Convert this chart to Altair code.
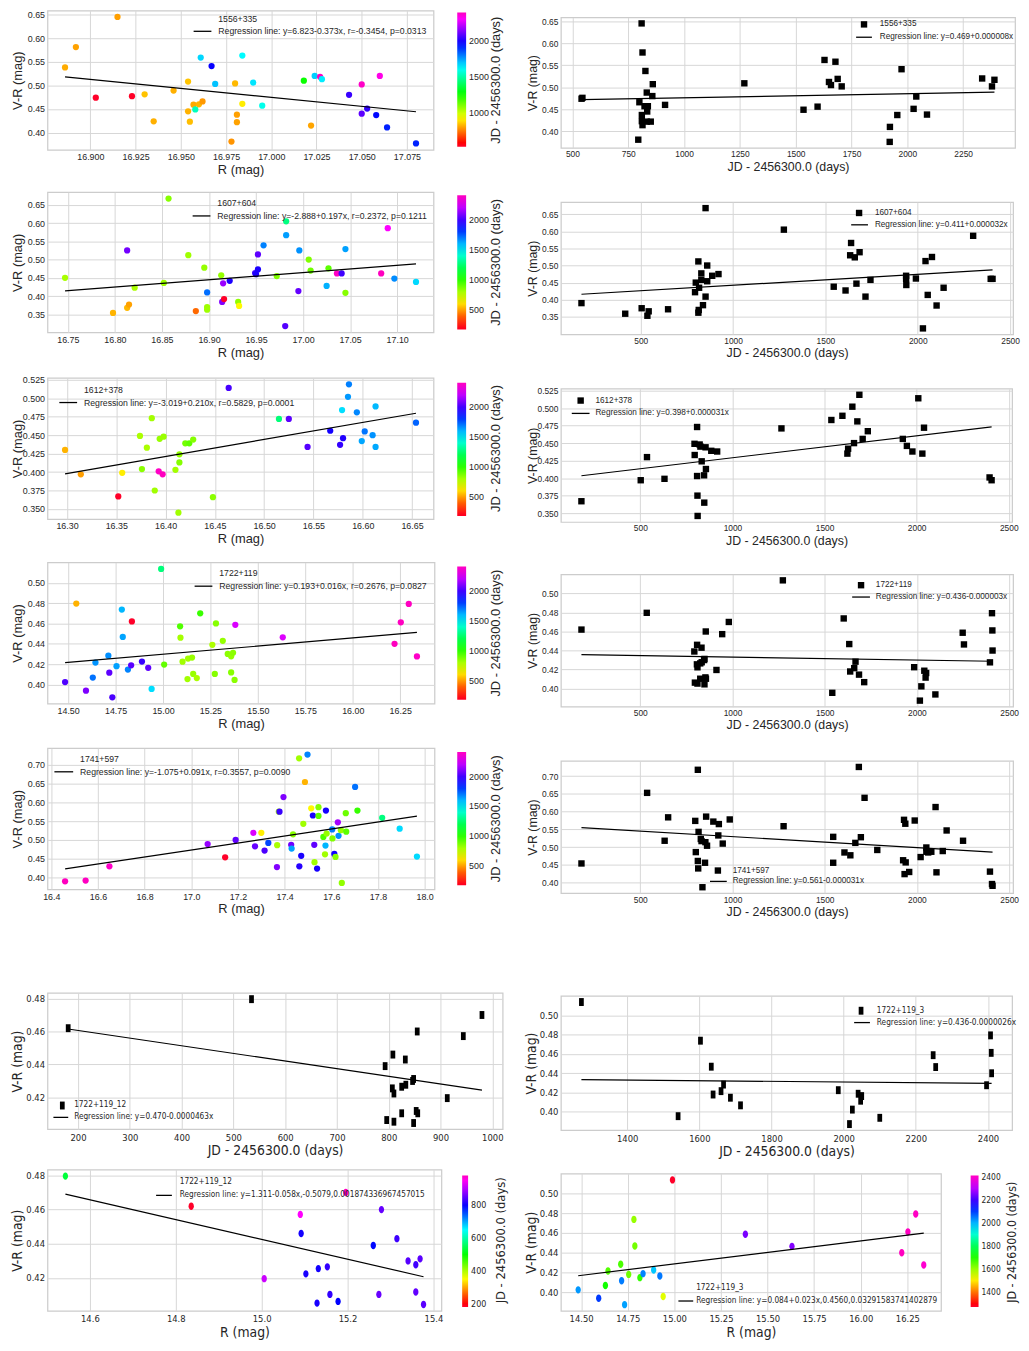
import altair as alt
import pandas as pd

# ---------------- data ----------------
# 1556+335 : left panel (R, V-R, colour = JD)
S1_R = [16.886, 16.892, 16.903, 16.915, 16.923, 16.930, 16.935, 16.946, 16.954, 16.954,
        16.955, 16.957, 16.958, 16.960, 16.961, 16.962, 16.967, 16.969, 16.978, 16.980,
        16.981, 16.981, 16.984, 16.984, 16.990, 16.995, 17.018, 17.022, 17.024, 17.027,
        17.028, 17.043, 17.050, 17.050, 17.053, 17.058, 17.060, 17.064, 17.080]
S1_VR = [0.538, 0.581, 0.474, 0.645, 0.477, 0.481, 0.424, 0.489, 0.508, 0.445,
         0.423, 0.459, 0.449, 0.460, 0.559, 0.466, 0.541, 0.503, 0.381, 0.504,
         0.438, 0.422, 0.461, 0.563, 0.506, 0.457, 0.510, 0.415, 0.520, 0.518,
         0.513, 0.480, 0.502, 0.440, 0.451, 0.437, 0.520, 0.411, 0.377]
S1_JD = [827, 814, 541, 810, 545, 858, 833, 833, 860, 835,
         851, 823, 1535, 838, 1678, 800, 1974, 1706, 795, 845,
         811, 814, 915, 1629, 1658, 1598, 1270, 818, 1688, 2390,
         1649, 2040, 2379, 2088, 2028, 1955, 2335, 1922, 1921]
# 1556+335 : right panel (JD, V-R)
S1_TJD = [541, 545, 810, 814, 827, 833, 860, 858, 800, 823, 838, 835, 811, 811, 814, 851, 833, 795, 915,
          1270, 1535, 1598, 1629, 1649, 1658, 1678, 1688, 1706, 1955, 1974, 1922, 1921, 2028, 2040, 2088,
          2335, 2379, 2390]
S1_TVR = [0.474, 0.476, 0.645, 0.579, 0.537, 0.488, 0.507, 0.480, 0.466, 0.457, 0.457, 0.445, 0.437, 0.423,
          0.414, 0.422, 0.422, 0.381, 0.460, 0.509, 0.449, 0.456, 0.562, 0.512, 0.505, 0.558, 0.519, 0.502,
          0.437, 0.541, 0.410, 0.376, 0.451, 0.479, 0.438, 0.520, 0.502, 0.517]

# 1607+604
S2_R = [16.747, 16.798, 16.813, 16.813, 16.815, 16.821, 16.852, 16.857, 16.878, 16.886,
        16.895, 16.898, 16.898, 16.898, 16.913, 16.915, 16.914, 16.916, 16.922, 16.931,
        16.932, 16.949, 16.950, 16.952, 16.952, 16.958, 16.972, 16.982, 16.982, 16.981,
        16.996, 16.995, 17.006, 17.008, 17.025, 17.027, 17.036, 17.041, 17.045, 17.045,
        17.083, 17.090, 17.097, 17.120]
S2_VR = [0.450, 0.354, 0.525, 0.368, 0.377, 0.423, 0.436, 0.667, 0.512, 0.359,
         0.478, 0.410, 0.370, 0.363, 0.457, 0.435, 0.384, 0.392, 0.442, 0.384,
         0.373, 0.463, 0.460, 0.514, 0.473, 0.539, 0.455, 0.605, 0.567, 0.318,
         0.525, 0.414, 0.500, 0.470, 0.428, 0.476, 0.462, 0.462, 0.409, 0.529,
         0.462, 0.586, 0.448, 0.439]
S2_JD = [798, 536, 2077, 543, 505, 794, 816, 851, 812, 416,
         828, 1717, 814, 812, 828, 2140, 2102, 179, 1938, 837,
         648, 1990, 1937, 2042, 1937, 1685, 860, 1275, 1639, 2028,
         1659, 2054, 860, 887, 1609, 921, 2395, 1995, 851, 1634,
         2405, 2300, 1668, 1545]
S2_TJD = [179, 416, 505, 543, 536, 648, 798, 794, 812, 816, 814, 812, 828, 828, 837, 851, 860, 860, 851,
          887, 921, 1275, 1545, 1609, 1634, 1639, 1659, 1668, 1685, 1717, 1744, 1937, 1937, 1938, 1990,
          2028, 2042, 2054, 2077, 2102, 2140, 2300, 2395, 2405]
S2_TVR = [0.390, 0.359, 0.375, 0.366, 0.353, 0.372, 0.450, 0.422, 0.512, 0.435, 0.370, 0.362, 0.477,
          0.458, 0.384, 0.668, 0.500, 0.454, 0.409, 0.470, 0.475, 0.605, 0.438, 0.427, 0.530, 0.566,
          0.524, 0.447, 0.539, 0.409, 0.458, 0.470, 0.461, 0.443, 0.462, 0.316, 0.513, 0.414, 0.525,
          0.383, 0.435, 0.587, 0.461, 0.461]

# 1612+378
S3_R = [16.298, 16.314, 16.352, 16.356, 16.374, 16.376, 16.381, 16.386, 16.389, 16.394,
        16.398, 16.393, 16.397, 16.410, 16.414, 16.414, 16.413, 16.420, 16.424, 16.428,
        16.448, 16.464, 16.515, 16.525, 16.544, 16.567, 16.577, 16.580, 16.579, 16.585,
        16.586, 16.594, 16.599, 16.602, 16.610, 16.613, 16.613, 16.654]
S3_VR = [0.430, 0.397, 0.367, 0.399, 0.449, 0.404, 0.433, 0.473, 0.375, 0.445,
         0.448, 0.401, 0.397, 0.403, 0.424, 0.413, 0.345, 0.439, 0.439, 0.444,
         0.366, 0.514, 0.472, 0.472, 0.434, 0.456, 0.437, 0.446, 0.484, 0.502,
         0.519, 0.481, 0.442, 0.455, 0.450, 0.434, 0.489, 0.467]
S3_JD = [536, 502, 180, 631, 794, 846, 795, 808, 810, 826,
         822, 2396, 2407, 808, 833, 856, 811, 885, 917, 854,
         847, 2009, 1266, 2040, 2031, 1925, 1977, 1947, 1537, 1651,
         1689, 1678, 1628, 1707, 1660, 1624, 1597, 1735]
S3_TJD = [180, 502, 536, 631, 795, 794, 808, 808, 810, 811, 822, 826, 833, 846, 847, 854, 856, 885, 917,
          1266, 1537, 1597, 1624, 1628, 1651, 1660, 1678, 1689, 1707, 1735, 1925, 1947, 1977, 2009, 2031,
          2040, 2396, 2407]
S3_TVR = [0.367, 0.397, 0.430, 0.399, 0.433, 0.449, 0.473, 0.403, 0.375, 0.346, 0.448, 0.445, 0.424,
          0.404, 0.365, 0.444, 0.413, 0.439, 0.438, 0.471, 0.483, 0.489, 0.435, 0.442, 0.502, 0.450,
          0.481, 0.519, 0.456, 0.467, 0.456, 0.446, 0.438, 0.514, 0.435, 0.472, 0.401, 0.397]

# 1722+119 (also split into _12 and _3 subsets for the bottom rows)
S4_R = [14.543, 14.836, 15.006, 15.090, 15.092, 15.103, 15.132, 15.153, 15.129, 15.159,
        15.178, 15.196, 15.260, 15.279, 15.273, 15.315, 15.341, 15.359, 15.369, 15.359, 15.377,
        14.484, 14.594, 14.630, 14.644, 14.712, 14.717, 14.733, 14.755, 14.783, 14.788,
        14.815, 14.832, 14.889, 14.922, 14.940, 14.990, 15.381, 15.631, 16.220, 16.253,
        16.295, 16.338]
S4_VR = [0.4796, 0.462, 0.4196, 0.4572, 0.446, 0.4224, 0.4255, 0.4265, 0.4053, 0.4104,
         0.4063, 0.470, 0.439, 0.460, 0.4104, 0.443, 0.430, 0.4277, 0.4312, 0.4118, 0.4045,
         0.4024, 0.3939, 0.4068, 0.4215, 0.4283, 0.4116, 0.3874, 0.418, 0.4737, 0.4468,
         0.4147, 0.4188, 0.4225, 0.4164, 0.3956, 0.5137, 0.4587, 0.4464, 0.440, 0.4611,
         0.4792, 0.4276]
S4_JD = [535, 181, 913, 944, 808, 810, 807, 825, 810, 825,
         796, 980, 793, 855, 856, 832, 846, 833, 848, 853, 848,
         2024, 2100, 1714, 1660, 1667, 2047, 2016, 1638, 1603, 1633,
         1686, 2040, 1985, 2050, 1541, 1273, 2248, 2255, 2410, 2409,
         2407, 2396]

# 1741+597
S5_R = [16.459, 16.547, 16.649, 17.070, 17.145, 17.190, 17.266, 17.273, 17.300, 17.314,
        17.330, 17.367, 17.368, 17.375, 17.378, 17.395, 17.428, 17.430, 17.436, 17.462,
        17.463, 17.471, 17.480, 17.487, 17.498, 17.514, 17.521, 17.527, 17.528, 17.539,
        17.545, 17.545, 17.566, 17.573, 17.575, 17.577, 17.580, 17.604, 17.605, 17.613,
        17.618, 17.628, 17.631, 17.641, 17.645, 17.662, 17.664, 17.702, 17.712, 17.818,
        17.893, 17.967]
S5_VR = [0.390, 0.392, 0.430, 0.489, 0.454, 0.500, 0.519, 0.483, 0.519, 0.472,
         0.492, 0.428, 0.486, 0.575, 0.575, 0.614, 0.487, 0.477, 0.515, 0.717,
         0.430, 0.458, 0.543, 0.654, 0.727, 0.584, 0.565, 0.487, 0.441, 0.424,
         0.587, 0.564, 0.508, 0.462, 0.485, 0.578, 0.517, 0.528, 0.504, 0.463,
         0.455, 0.547, 0.511, 0.526, 0.386, 0.571, 0.522, 0.641, 0.578, 0.559,
         0.530, 0.456]
S5_JD = [2410, 2407, 2396, 2140, 181, 2051, 2250, 2061, 632, 2020,
         1785, 2106, 801, 798, 1988, 2101, 2078, 1639, 853, 812,
         1958, 1939, 816, 537, 1685, 651, 1937, 2051, 814, 1933,
         857, 926, 947, 812, 1607, 1930, 832, 1696, 862, 1925,
         851, 2161, 1666, 828, 837, 896, 923, 1716, 985, 1277,
         1546, 1546]
S5_TJD = [181, 537, 651, 632, 798, 812, 801, 812, 814, 816, 828, 832, 837, 853, 857, 851, 862, 896, 926,
          923, 947, 985, 1277, 1546, 1546, 1607, 1639, 1666, 1685, 1696, 1716, 1785, 1930, 1937, 1925,
          1939, 1933, 1958, 1988, 2020, 2051, 2051, 2061, 2078, 2101, 2106, 2140, 2161, 2250, 2396,
          2410, 2407]
S5_TVR = [0.454, 0.653, 0.584, 0.518, 0.574, 0.718, 0.486, 0.461, 0.440, 0.543, 0.523, 0.517, 0.387,
          0.514, 0.586, 0.456, 0.504, 0.572, 0.565, 0.533, 0.510, 0.578, 0.559, 0.529, 0.456, 0.485,
          0.477, 0.512, 0.726, 0.528, 0.639, 0.492, 0.577, 0.566, 0.463, 0.457, 0.424, 0.430, 0.575,
          0.472, 0.499, 0.487, 0.485, 0.487, 0.613, 0.429, 0.489, 0.547, 0.518, 0.431, 0.391, 0.396]

# tick labels
X1L = [16.900, 16.925, 16.950, 16.975, 17.000, 17.025, 17.050, 17.075]
X1R = [500, 750, 1000, 1250, 1500, 1750, 2000, 2250]
Y1 = [0.40, 0.45, 0.50, 0.55, 0.60, 0.65]
X2L = [16.75, 16.80, 16.85, 16.90, 16.95, 17.00, 17.05, 17.10]
Y2 = [0.35, 0.40, 0.45, 0.50, 0.55, 0.60, 0.65]
XJD = [500, 1000, 1500, 2000, 2500]
X3L = [16.30, 16.35, 16.40, 16.45, 16.50, 16.55, 16.60, 16.65]
Y3 = [0.350, 0.375, 0.400, 0.425, 0.450, 0.475, 0.500, 0.525]
X4L = [14.50, 14.75, 15.00, 15.25, 15.50, 15.75, 16.00, 16.25]
Y4 = [0.40, 0.42, 0.44, 0.46, 0.48, 0.50]
X5L = [16.4, 16.6, 16.8, 17.0, 17.2, 17.4, 17.6, 17.8, 18.0]
Y5 = [0.40, 0.45, 0.50, 0.55, 0.60, 0.65, 0.70]
X6L = [200, 300, 400, 500, 600, 700, 800, 900, 1000]
Y6L = [0.42, 0.44, 0.46, 0.48]
X6R = [1400, 1600, 1800, 2000, 2200, 2400]
X7L = [14.6, 14.8, 15.0, 15.2, 15.4]
CB1 = [1000, 1500, 2000]
CB2 = [500, 1000, 1500, 2000]
CB7L = [200, 400, 600, 800]
CB7R = [1400, 1600, 1800, 2000, 2200, 2400]

# ---------------- styling ----------------
FONT = "Liberation Sans"
NARROW = "Liberation Sans Narrow, DejaVu Sans Condensed, Liberation Sans"
INK = "#262626"
GRID = "#d6d6d6"
FRAME = "#cccccc"
GIST_T = [0.0, 0.03, 0.215, 0.4, 0.586, 0.77, 0.954, 1.0]
GIST_C = ["#ff0029", "#ff0000", "#ffff00", "#00ff00", "#00ffff", "#0000ff", "#ff00ff", "#ff00bf"]
ONE = pd.DataFrame({"k": [0]})
CBT = "JD - 2456300.0 (days)"
TALL_RECT = "M-0.6,-1L0.6,-1L0.6,1L-0.6,1Z"
TALL_DOT = "M0,-1A0.72,1,0,1,1,0,1A0.72,1,0,1,1,0,-1Z"

ST_L = dict(font=FONT, lab=9, tit=13, ext=21, ytp=2, xlp=3, xtp=2, msize=40, shape="circle", leg=8.8, cbl=9, cbt=13)
ST_R = dict(font=FONT, lab=8.5, tit=12.5, ext=20, ytp=2, xlp=2, xtp=2, msize=42, shape="square", leg=8.3)
ST_6 = dict(font=NARROW, lab=9.5, tit=14, ext=20, ytp=3, xlp=3, xtp=2, msize=64, shape=TALL_RECT, leg=8.3)
ST_7 = dict(font=NARROW, lab=9.5, tit=14, ext=20, ytp=3, xlp=3, xtp=2, msize=56, shape=TALL_DOT, leg=8.3,
            cbl=9, cbt=13)
ST_7R = dict(ST_7, cbl=8.5, cbt=12.5)


def lim(v):
    lo, hi = float(min(v)), float(max(v))
    m = 0.05 * (hi - lo)
    return [lo - m, hi + m]


def note(s, x, y, size, font, angle=0, align="left"):
    return alt.Chart(ONE).mark_text(text=s, font=font, fontSize=size, color=INK, align=align,
                                    baseline="middle", angle=angle).encode(x=alt.value(x), y=alt.value(y))


def key_line(x1, x2, y):
    return alt.Chart(ONE).mark_rule(color="black", strokeWidth=1.3).encode(
        x=alt.value(x1), x2=alt.value(x2), y=alt.value(y))


def key_mark(x, y, st):
    return alt.Chart(ONE).mark_point(shape=st["shape"], filled=True, size=st["msize"], color="black",
                                     opacity=1, strokeWidth=0).encode(x=alt.value(x), y=alt.value(y))


def panel(df, xf, w, h, xvals, xfmt, yvals, yfmt, xtitle, st, leg, cbar=None):
    f = st["font"]
    xa = alt.Axis(values=xvals, tickCount=40, format=xfmt, title=xtitle, labelFont=f, labelFontSize=st["lab"],
                  titleFont=f, titleFontSize=st["tit"], labelPadding=st["xlp"], titlePadding=st["xtp"],
                  labelOverlap=False, labelFlush=False)
    ya = alt.Axis(values=yvals, tickCount=40, format=yfmt, title="V-R (mag)", labelFont=f,
                  labelFontSize=st["lab"], titleFont=f, titleFontSize=st["tit"], labelPadding=3,
                  titlePadding=st["ytp"], minExtent=st["ext"], maxExtent=st["ext"], labelOverlap=False,
                  labelFlush=False)
    x = alt.X(f"{xf}:Q", scale=alt.Scale(domain=lim(df[xf]), nice=False, zero=False), axis=xa)
    y = alt.Y("VR:Q", scale=alt.Scale(domain=lim(df["VR"]), nice=False, zero=False), axis=ya)
    mark = alt.Chart(df).mark_point(shape=st["shape"], filled=True, size=st["msize"], opacity=1, strokeWidth=0)
    layers = []
    if cbar:
        lo, hi = float(df["JD"].min()), float(df["JD"].max())
        dom = [lo + t * (hi - lo) for t in GIST_T]
        col = alt.Color("JD:Q", scale=alt.Scale(domain=dom, range=GIST_C, interpolate="rgb"),
                        legend=alt.Legend(orient="none", legendX=cbar["x"], legendY=cbar["y"],
                                          direction="vertical", gradientLength=cbar["len"],
                                          gradientThickness=cbar["th"], gradientStrokeWidth=0,
                                          title=None, values=cbar["vals"], format="d", labelFont=f,
                                          labelFontSize=st["cbl"], labelColor=INK, labelOffset=3,
                                          labelOverlap=False))
        layers.append(mark.encode(x=x, y=y, color=col))
        layers.append(note(CBT, cbar["tx"], h / 2, st["cbt"], f, angle=270, align="center"))
    else:
        layers.append(mark.encode(x=x, y=y, color=alt.value("black")))
    layers.append(alt.Chart(df).transform_regression(xf, "VR").mark_line(color="black", strokeWidth=1.2)
                  .encode(x=f"{xf}:Q", y="VR:Q"))
    # in-plot legend
    if leg.get("marker"):
        layers.append(key_mark(leg["marker"][0], leg["marker"][1], st))
    layers.append(note(leg["name"], leg["lab"][0], leg["lab"][1], st["leg"], f))
    layers.append(key_line(leg["line"][0], leg["line"][1], leg["line"][2]))
    layers.append(note(leg["eq"], leg["lab"][0], leg["line"][2], st["leg"], f))
    return alt.layer(*layers).properties(width=w, height=h)


def gap(hh):
    return alt.Chart(ONE).mark_point(opacity=0, size=1).encode(x=alt.value(1), y=alt.value(hh / 2)).properties(
        width=1, height=hh, view=alt.ViewBackground(stroke="transparent"))


d1L = pd.DataFrame({"R": S1_R, "VR": S1_VR, "JD": S1_JD})
d1R = pd.DataFrame({"JD": S1_TJD, "VR": S1_TVR})
d2L = pd.DataFrame({"R": S2_R, "VR": S2_VR, "JD": S2_JD})
d2R = pd.DataFrame({"JD": S2_TJD, "VR": S2_TVR})
d3L = pd.DataFrame({"R": S3_R, "VR": S3_VR, "JD": S3_JD})
d3R = pd.DataFrame({"JD": S3_TJD, "VR": S3_TVR})
d4 = pd.DataFrame({"R": S4_R, "VR": S4_VR, "JD": S4_JD})
d4a = d4[d4["JD"] < 1100].reset_index(drop=True)
d4b = d4[d4["JD"] > 1100].reset_index(drop=True)
d5L = pd.DataFrame({"R": S5_R, "VR": S5_VR, "JD": S5_JD})
d5R = pd.DataFrame({"JD": S5_TJD, "VR": S5_TVR})

RT = "R (mag)"

L1 = panel(d1L, "R", 391, 141, X1L, ".3f", Y1, ".2f", RT, ST_L,
           dict(name="1556+335", eq="Regression line: y=6.823-0.373x, r=-0.3454, p=0.0313",
                lab=(173, 9), line=(148, 166, 21)),
           cbar=dict(x=415, y=2, len=136, th=9, tx=454, vals=CB1))
R1 = panel(d1R, "JD", 460, 132, X1R, "d", Y1, ".2f", CBT, ST_R,
           dict(name="1556+335", eq="Regression line: y=0.469+0.000008x", marker=(307, 7),
                lab=(323, 7), line=(299, 315, 20)))
L2 = panel(d2L, "R", 391, 142, X2L, ".2f", Y2, ".2f", RT, ST_L,
           dict(name="1607+604", eq="Regression line: y=-2.888+0.197x, r=0.2372, p=0.1211",
                lab=(172, 11), line=(147, 165, 24)),
           cbar=dict(x=415, y=3, len=136, th=9, tx=454, vals=CB2))
R2 = panel(d2R, "JD", 458, 134, XJD, "d", Y2, ".2f", CBT, ST_R,
           dict(name="1607+604", eq="Regression line: y=0.411+0.000032x", marker=(302, 11),
                lab=(318, 11), line=(294, 311, 23)))
L3 = panel(d3L, "R", 391, 143, X3L, ".2f", Y3, ".3f", RT, ST_L,
           dict(name="1612+378", eq="Regression line: y=-3.019+0.210x, r=0.5829, p=0.0001",
                lab=(37, 12), line=(12, 30, 25)),
           cbar=dict(x=415, y=5, len=135, th=9, tx=454, vals=CB2))
R3 = panel(d3R, "JD", 457, 135, XJD, "d", Y3, ".3f", CBT, ST_R,
           dict(name="1612+378", eq="Regression line: y=0.398+0.000031x", marker=(20, 12),
                lab=(35, 12), line=(11, 29, 25)))
L4 = panel(d4, "R", 392, 143, X4L, ".2f", Y4, ".2f", RT, ST_L,
           dict(name="1722+119", eq="Regression line: y=0.193+0.016x, r=0.2676, p=0.0827",
                lab=(174, 11), line=(149, 167, 24)),
           cbar=dict(x=415, y=4, len=135, th=9, tx=454, vals=CB2))
R4 = panel(d4, "JD", 458, 134, XJD, "d", Y4, ".2f", CBT, ST_R,
           dict(name="1722+119", eq="Regression line: y=0.436-0.000003x", marker=(304, 11),
                lab=(319, 11), line=(295, 313, 23)))
L5 = panel(d5L, "R", 392, 143, X5L, ".1f", Y5, ".2f", RT, ST_L,
           dict(name="1741+597", eq="Regression line: y=-1.075+0.091x, r=0.3557, p=0.0090",
                lab=(33, 11), line=(7, 26, 24)),
           cbar=dict(x=415, y=4, len=135, th=9, tx=454, vals=CB2))
R5 = panel(d5R, "JD", 458, 134, XJD, "d", Y5, ".2f", CBT, ST_R,
           dict(name="1741+597", eq="Regression line: y=0.561-0.000031x", marker=(159, 111),
                lab=(174, 111), line=(151, 168, 122)))
L6 = panel(d4a, "JD", 461, 138, X6L, "d", Y6L, ".2f", CBT, ST_6,
           dict(name="1722+119_12", eq="Regression line: y=0.470-0.0000463x", marker=(15, 114),
                lab=(27, 114), line=(6, 21, 126)))
R6 = panel(d4b, "JD", 457, 136, X6R, "d", Y4, ".2f", CBT, ST_6,
           dict(name="1722+119_3", eq="Regression line: y=0.436-0.0000026x", marker=(304, 15),
                lab=(320, 15), line=(297, 313, 27)))
L7 = panel(d4a, "R", 399, 143, X7L, ".1f", Y6L, ".2f", RT, ST_7,
           dict(name="1722+119_12", eq="Regression line: y=1.311-0.058x,-0.5079,0.001874336967457015",
                lab=(134, 12), line=(110, 126, 26)),
           cbar=dict(x=420, y=6, len=133, th=6, tx=459, vals=CB7L))
R7 = panel(d4b, "R", 385, 139, X4L, ".2f", Y4, ".2f", RT, ST_7R,
           dict(name="1722+119_3", eq="Regression line: y=0.084+0.023x,0.4560,0.03291583741402879",
                lab=(137, 116), line=(119, 134, 129)),
           cbar=dict(x=415, y=2, len=133, th=8, tx=457, vals=CB7R))

left_col = alt.vconcat(L1, gap(43), L2, gap(46), L3, gap(44), L4, gap(45), L5, gap(105), L6, gap(41), L7,
                       spacing=0, bounds="flush").resolve_scale(color="independent")
right_col = alt.vconcat(gap(7), R1, gap(55), R2, gap(55), R3, gap(53), R4, gap(55), R5, gap(104), R6,
                        gap(44), R7, spacing=0, bounds="flush").resolve_scale(color="independent")

chart = alt.hconcat(left_col, right_col, spacing=15).resolve_scale(
    color="independent"
).properties(
    padding={"left": 2, "top": -7, "right": 0, "bottom": 0}
).configure(
    background="white", font=FONT
).configure_view(
    stroke=FRAME, strokeWidth=1.25
).configure_axis(
    grid=True, gridColor=GRID, gridWidth=1, domain=False, ticks=False, labelColor=INK,
    titleColor=INK, titleFontWeight="normal", labelFlush=False, labelOverlap=False
)

chart.save("out.html", embed_options={"renderer": "svg", "actions": False})
